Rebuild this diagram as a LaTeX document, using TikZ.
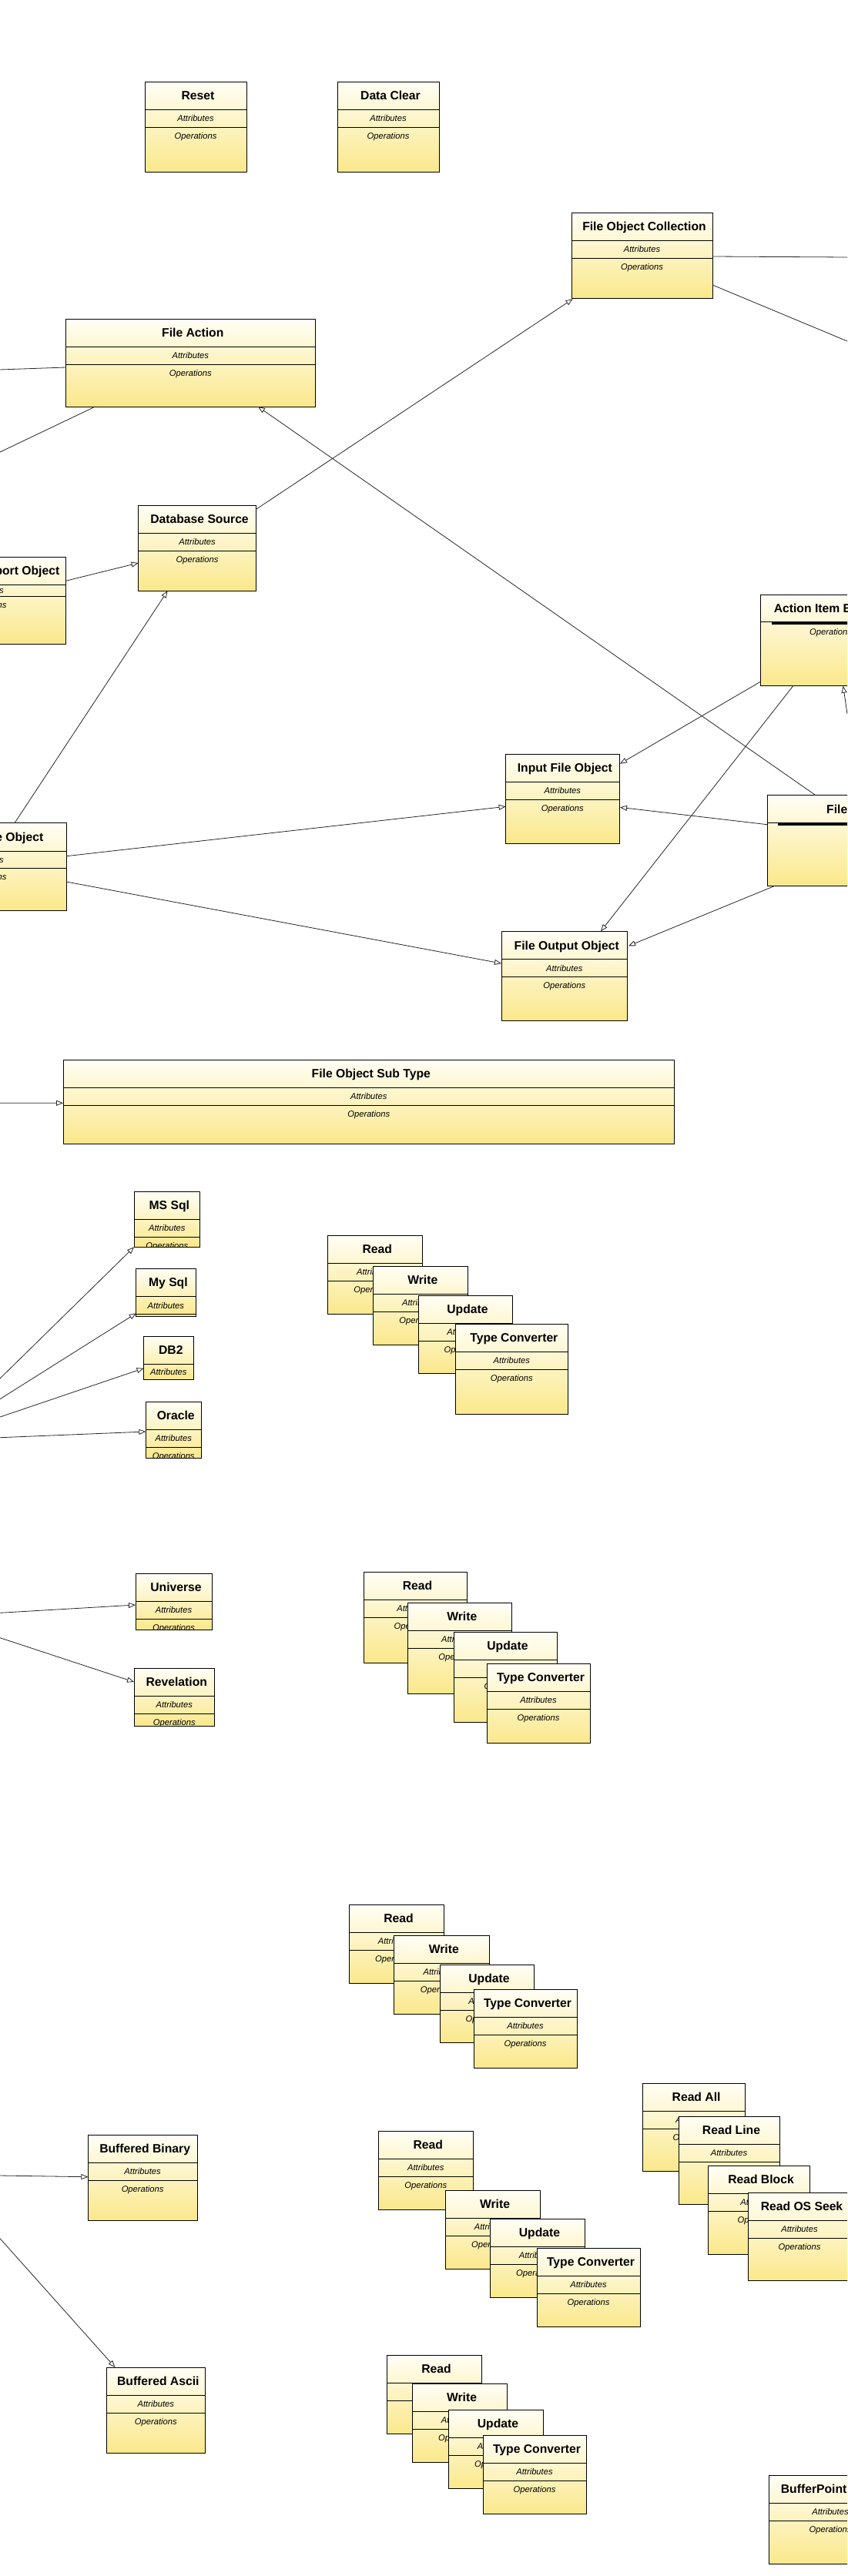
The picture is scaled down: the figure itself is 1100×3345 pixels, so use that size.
\documentclass[tikz,border=0pt]{standalone}
\usepackage{fontspec}
\setmainfont{Liberation Sans}
\usetikzlibrary{arrows.meta,calc}
\definecolor{clsTop}{HTML}{FFFEF5}
\definecolor{clsBot}{HTML}{FAE88B}
\tikzset{
  clsbox/.style={rectangle, inner sep=0pt, outer sep=0pt, top color=clsTop, bottom color=clsBot, draw=none},
  clsborder/.style={draw=black, line width=1pt},
  divline/.style={draw=black, line width=1pt},
  titletxt/.style={inner sep=0pt, font=\bfseries\fontsize{15.7}{19}\selectfont, text height=11.3pt, text depth=0pt},
  attrtxt/.style={inner sep=0pt, font=\itshape\fontsize{11.2}{13}\selectfont, text height=8pt, text depth=0pt},
  conn/.style={draw=black!85, line width=0.8pt},
  inh/.style={conn, -{Triangle[open, length=9pt, width=7pt]}},
  thickbar/.style={draw=black, line width=3pt},
}
% #1 name, #2 x1, #3 y1, #4 x2, #5 y2, #6 header divider y, #7 attribute divider y, #8 title
\newcommand\umlcls[8]{%
  \pgfmathsetmacro\clsX{(#2+#4)/2}%
  \pgfmathsetmacro\clsY{(#3+#5)/2}%
  \pgfmathsetmacro\clsW{#4-#2}%
  \pgfmathsetmacro\clsH{#5-#3}%
  \pgfmathsetmacro\clsTY{(#3+#6)/2}%
  \pgfmathsetmacro\clsAY{(#6+#7)/2}%
  \pgfmathsetmacro\clsOY{#7+11}%
  \node[clsbox, minimum width=\clsW pt, minimum height=\clsH pt] (#1) at (\clsX,\clsY) {};
  \begin{scope}
    \clip (#2,#3) rectangle (#4,#5);
    \node[titletxt] at (\clsX+3,\clsTY) {#8};
    \node[attrtxt] at (\clsX,\clsAY) {Attributes};
    \node[attrtxt] at (\clsX,\clsOY) {Operations};
  \end{scope}
  \draw[divline] (#2,#6) -- (#4,#6) (#2,#7) -- (#4,#7);
  \draw[clsborder] (#2,#3) rectangle (#4,#5);
}
\begin{document}
\begin{tikzpicture}[x=1pt,y=-1pt]
\useasboundingbox (0,0) rectangle (1100,3345);
\fill[white] (0,0) rectangle (1100,3345);
\clip (0,0) rectangle (1100,3345);

% free ends of connectors leaving the picture
\coordinate (r1) at (1100,334);
\coordinate (r2) at (1100,443);
\coordinate (r3) at (1100,927);
\coordinate (l1) at (0,480);
\coordinate (l2) at (0,587);
\coordinate (l3) at (0,1432.3);
\coordinate (l4) at (0,1790);
\coordinate (l5) at (0,1816.7);
\coordinate (l6) at (0,1840);
\coordinate (l7) at (0,1866.7);
\coordinate (l8) at (0,2094.3);
\coordinate (l9) at (0,2126.7);
\coordinate (l10) at (0,2825);
\coordinate (l11) at (0,2906.7);

% ---------- classes ----------
\umlcls{reset}{188}{106.3}{320}{223.3}{142.3}{165.3}{Reset}
\umlcls{dclear}{438}{106.3}{570}{223.3}{142.3}{165.3}{Data Clear}
\umlcls{foc}{742}{276}{925}{387}{312}{335}{File Object Collection}
\umlcls{fa}{85.6}{414}{409}{528}{450}{473}{File Action}
\umlcls{dbs}{179.6}{656.3}{332.5}{767.3}{692.3}{715.3}{Database Source}
\umlcls{port}{-123.6}{723.3}{85.6}{836}{759.3}{774.3}{}
\node[titletxt, anchor=east] at (77.5,741.3) {port Object};
\umlcls{inp}{656.6}{979.3}{804}{1095.3}{1015.3}{1038.3}{Input File Object}
\umlcls{eobj}{-124.3}{1068.7}{86.3}{1182.3}{1105}{1127.3}{}
\node[titletxt, anchor=east] at (56.5,1086.85) {e Object};
\umlcls{fout}{651}{1209.3}{814.5}{1325.3}{1245.7}{1268.3}{File Output Object}

% Action Item E...
\node[clsbox, minimum width=182.3pt, minimum height=118.4pt] (ai) at (1078.85,831.5) {};
\node[titletxt, anchor=west] at (1004.6,789.8) {Action Item E};
\node[attrtxt] at (1078.6,820.3) {Operations};
\draw[divline] (987.7,807.3) -- (1170,807.3);
\draw[thickbar] (1002,809) -- (1170,809);
\draw[clsborder] (ai.north west) rectangle (ai.south east);

% File...
\node[clsbox, minimum width=164pt, minimum height=117.3pt] (fileb) at (1078,1091.35) {};
\node[titletxt, anchor=west] at (1073,1050.7) {File};
\draw[divline] (996,1068.7) -- (1160,1068.7);
\draw[thickbar] (1010,1070.5) -- (1160,1070.5);
\draw[clsborder] (fileb.north west) rectangle (fileb.south east);

\umlcls{fost}{82}{1376}{875.5}{1485.3}{1412.3}{1435}{File Object Sub Type}

\umlcls{mssql}{174}{1547.3}{259.6}{1619.3}{1583.3}{1606.3}{MS Sql}
\umlcls{mysql}{176.8}{1647.3}{254}{1709.3}{1683.3}{1706.7}{My Sql}
\umlcls{db2}{186.6}{1735.3}{251}{1791.3}{1771.3}{1791.3}{DB2}
\umlcls{oracle}{189.4}{1820.3}{261}{1893.3}{1856.3}{1879.3}{Oracle}

\umlcls{aread}{425}{1604.3}{548.6}{1706}{1640.3}{1663.3}{Read}
\umlcls{awrite}{484}{1644.3}{607.5}{1746}{1680.3}{1703.3}{Write}
\umlcls{aupd}{543}{1682.3}{665}{1783.3}{1718.3}{1741.3}{Update}
\umlcls{atc}{591.4}{1719.3}{737.3}{1836}{1755.3}{1778.3}{Type Converter}

\umlcls{univ}{176}{2043.3}{275}{2116.3}{2079.3}{2102.3}{Universe}
\umlcls{revel}{174}{2166.3}{278.5}{2241}{2202.3}{2225.3}{Revelation}

\umlcls{bread}{472}{2041}{606}{2159.3}{2077.3}{2100.3}{Read}
\umlcls{bwrite}{529.6}{2081.3}{664}{2199.3}{2117.3}{2140.3}{Write}
\umlcls{bupd}{589}{2119.3}{723}{2236.3}{2155.3}{2178.3}{Update}
\umlcls{btc}{632}{2160.3}{766}{2263.3}{2196.3}{2219.3}{Type Converter}

\umlcls{cread}{453}{2473.3}{576}{2575.3}{2509.3}{2532.3}{Read}
\umlcls{cwrite}{511}{2513.3}{635.6}{2615.3}{2549.3}{2572.3}{Write}
\umlcls{cupd}{571}{2551.3}{693}{2652.3}{2587.3}{2610.3}{Update}
\umlcls{ctc}{615}{2583}{749}{2685.3}{2619.3}{2642.3}{Type Converter}

\umlcls{rall}{834.8}{2705.3}{967.4}{2819}{2741.3}{2764.3}{Read All}
\umlcls{rline}{881}{2748.3}{1012}{2862}{2784.3}{2807.3}{Read Line}
\umlcls{rblock}{919}{2812.3}{1051}{2927}{2848.3}{2871.3}{Read Block}
\umlcls{rseek}{971}{2847.3}{1105}{2961.3}{2883.3}{2906.3}{Read OS Seek}

\umlcls{bbin}{114.3}{2772.3}{256}{2883.3}{2808.3}{2831.3}{Buffered Binary}

\umlcls{dread}{491}{2767.3}{614.5}{2869.3}{2803.3}{2826.3}{Read}
\umlcls{dwrite}{578}{2844.3}{701}{2946}{2880.3}{2903.3}{Write}
\umlcls{dupd}{636}{2881.3}{759}{2983}{2917.3}{2940.3}{Update}
\umlcls{dtc}{697}{2919.3}{831}{3021}{2955.3}{2978.3}{Type Converter}

\umlcls{basc}{138}{3074}{266.6}{3185.3}{3110.3}{3133.3}{Buffered Ascii}

\umlcls{eread}{502}{3058}{625}{3160.3}{3094.3}{3117.3}{Read}
\umlcls{ewrite}{535}{3095}{658}{3197.3}{3131.3}{3154.3}{Write}
\umlcls{eupd}{582}{3129.3}{705}{3231.3}{3165.3}{3188.3}{Update}
\umlcls{etconv}{627}{3162}{761}{3264.3}{3198}{3221}{Type Converter}

\umlcls{bptr}{998}{3214.3}{1158}{3329}{3250.3}{3273.3}{}
\node[titletxt, anchor=west] at (1013.7,3232.3) {BufferPoint};

% ---------- connectors ----------
\draw[conn] ($(foc.east)+(0,1.5)$) -- (r1);
\draw[conn] ($(foc.south east)+(0,-17)$) -- (r2);
\draw[conn] (l1) -- ($(fa.west)+(0,6)$);
\draw[conn] ($(fa.south west)+(38,0)$) -- (l2);
\draw[inh] ($(fileb.north west)+(63,0)$) -- ($(fa.south west)+(249.4,0)$);
\draw[inh] ($(dbs.north east)+(0,5)$) -- ($(foc.south west)+(1.6,1.3)$);
\draw[inh] ($(port.east)+(0,-25.4)$) -- ($(dbs.west)+(0,19.2)$);
\draw[inh] ($(eobj.north west)+(143.3,0)$) -- ($(dbs.south west)+(38,0)$);
\draw[inh] ($(ai.south west)+(0,-5.7)$) -- ($(inp.north east)+(1,12.4)$);
\draw[inh] ($(ai.south west)+(42,0)$) -- ($(fout.north west)+(129,0)$);
\draw[inh] (r3) -- ($(ai.south west)+(107,0)$);
\draw[inh] ($(eobj.east)+(0,-13.8)$) -- ($(inp.west)+(0,10)$);
\draw[inh] ($(fileb.north west)+(0,38)$) -- ($(inp.east)+(1,11)$);
\draw[inh] ($(eobj.east)+(0,19.5)$) -- ($(fout.west)+(0,-16.3)$);
\draw[inh] ($(fileb.south west)+(10.7,0)$) -- ($(fout.east)+(1.5,-39)$);
\draw[inh] (l3) -- ($(fost.west)+(0,1.65)$);
\draw[inh] (l4) -- (mssql.south west);
\draw[inh] (l5) -- ($(mysql.south west)+(0,-4)$);
\draw[inh] (l6) -- ($(db2.west)+(0,13.4)$);
\draw[inh] (l7) -- ($(oracle.west)+(0,2.2)$);
\draw[inh] (l8) -- ($(univ.west)+(0,4.2)$);
\draw[inh] (l9) -- ($(revel.west)+(0,-19.65)$);
\draw[inh] (l10) -- ($(bbin.west)+(0,-1.1)$);
\draw[inh] (l11) -- ($(basc.north west)+(11.4,0)$);
\end{tikzpicture}
\end{document}
